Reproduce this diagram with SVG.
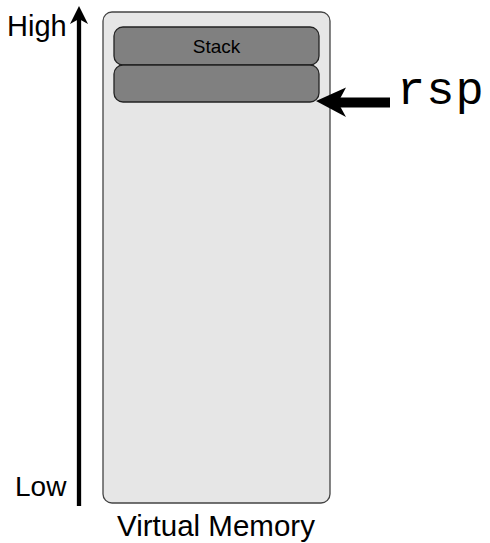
<svg xmlns="http://www.w3.org/2000/svg" width="490" height="543" viewBox="0 0 490 543">
  <style>
    .sans { font-family: "Liberation Sans", Arial, sans-serif; fill: #000; }
    .mono { font-family: "Liberation Mono", "Courier New", monospace; fill: #000; }
    .region { fill: #808080; stroke: #222; stroke-width: 1.3; }
  </style>
  <rect width="490" height="543" fill="#fff"/>

  <g id="memory">
    <rect x="103" y="12" width="227" height="491" rx="9" ry="9" fill="#e6e6e6" stroke="#444" stroke-width="1.3"/>
    <text class="sans" x="216" y="536" font-size="29.5" text-anchor="middle">Virtual Memory</text>
  </g>

  <g id="stack">
    <rect class="region" x="114" y="27" width="205" height="38" rx="9" ry="9"/>
    <text class="sans" x="216.5" y="53" font-size="19" text-anchor="middle">Stack</text>
  </g>

  <g id="frame">
    <rect class="region" x="114" y="65" width="205" height="37" rx="9" ry="9"/>
  </g>

  <g id="axis-labels">
    <text class="sans" x="7" y="36" font-size="29">High</text>
    <text class="sans" x="15" y="496" font-size="28">Low</text>
  </g>

  <g id="rsp">
    <text class="mono" x="397" y="104" font-size="47" letter-spacing="1">rsp</text>
  </g>

  <g id="connectors">
    <line x1="79" y1="506" x2="79" y2="15" stroke="#000" stroke-width="4.3"/>
    <path d="M79,6 L88,24 L79,19 L70,24 Z" fill="#000"/>
    <line x1="390" y1="102.5" x2="338" y2="102.5" stroke="#000" stroke-width="10"/>
    <path d="M316,101 L346,87.5 L338,102.5 L346,117 Z" fill="#000"/>
  </g>
</svg>
